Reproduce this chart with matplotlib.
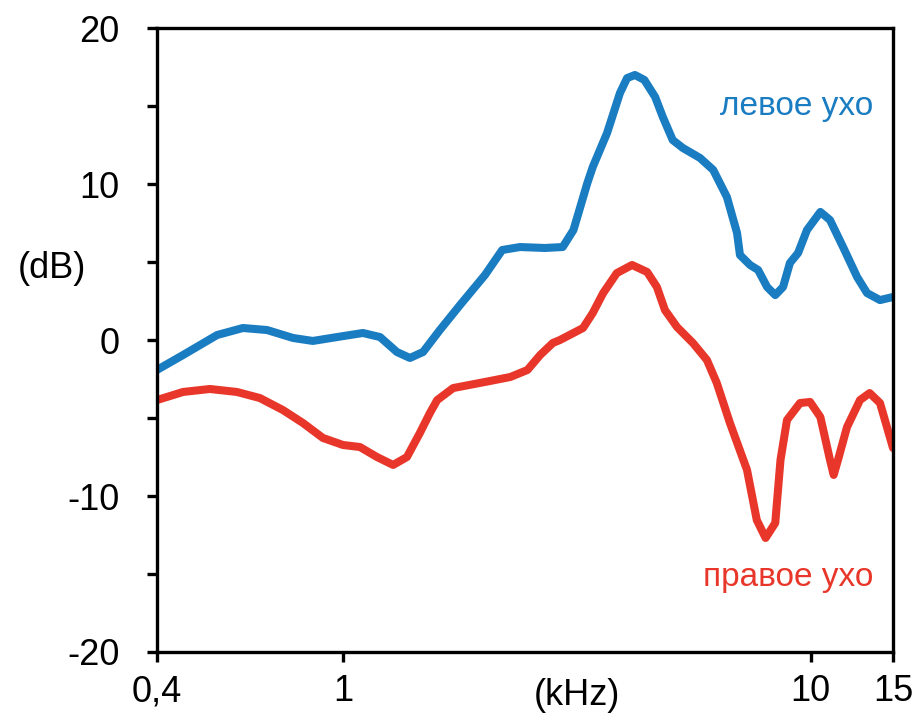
import matplotlib
matplotlib.use("Agg")
import matplotlib.pyplot as plt
import numpy as np

plt.rcParams['font.family'] = ['Liberation Sans', 'DejaVu Sans']
plt.rcParams['axes.unicode_minus'] = False

# frequency (kHz) and level (dB)
left_freq = [0.400, 0.455, 0.538, 0.611, 0.688, 0.782, 0.862, 0.971, 1.103, 1.200,
             1.304, 1.390, 1.483, 1.611, 1.779, 2.012, 2.19, 2.39, 2.70, 2.95,
             3.11, 3.33, 3.42, 3.67, 3.91, 4.05, 4.21, 4.41, 4.65, 4.83,
             5.07, 5.33, 5.80, 6.19, 6.62, 6.96, 7.06, 7.42, 7.72, 8.07,
             8.40, 8.73, 9.03, 9.40, 9.82, 10.49, 11.0, 11.73, 12.57, 13.20,
             14.07, 15.0]
left_db = [-1.92, -0.96, 0.32, 0.77, 0.64, 0.13, -0.06, 0.19, 0.45, 0.19,
           -0.77, -1.15, -0.77, 0.64, 2.24, 4.17, 5.77, 5.96, 5.90, 5.96,
           7.05, 10.06, 11.09, 13.27, 15.83, 16.79, 16.99, 16.67, 15.58, 14.29,
           12.82, 12.31, 11.67, 10.90, 9.17, 6.86, 5.45, 4.81, 4.49, 3.40,
           2.88, 3.40, 4.94, 5.58, 7.05, 8.21, 7.69, 5.96, 4.04, 3.01,
           2.56, 2.76]

right_freq = [0.400, 0.455, 0.519, 0.593, 0.664, 0.744, 0.821, 0.906, 1.000, 1.087,
              1.182, 1.280, 1.370, 1.46, 1.534, 1.59, 1.72, 2.06, 2.28, 2.48,
              2.64, 2.81, 2.91, 3.26, 3.42, 3.60, 3.85, 4.15, 4.47, 4.69,
              4.88, 5.18, 5.60, 6.00, 6.30, 6.72, 7.31, 7.67, 8.01, 8.40,
              8.62, 8.90, 9.49, 9.97, 10.49, 11.0, 11.2, 11.44, 11.96, 12.75,
              13.37, 14.07, 15.0]
right_db = [-3.85, -3.33, -3.14, -3.33, -3.72, -4.49, -5.32, -6.28, -6.73, -6.86,
            -7.50, -8.01, -7.50, -5.96, -4.68, -3.85, -3.08, -2.63, -2.37, -1.92,
            -0.96, -0.19, 0.0, 0.77, 1.73, 3.01, 4.29, 4.81, 4.36, 3.40,
            1.92, 0.83, -0.19, -1.28, -2.76, -5.32, -8.33, -11.54, -12.69, -11.73,
            -7.69, -5.13, -4.04, -3.97, -4.94, -7.69, -8.65, -7.69, -5.58, -3.85,
            -3.40, -4.04, -6.92]

xticks = [0.4, 1, 10, 15]
xtick_labels = ['0,4', '1', '10', '15']
yticks = [-20, -10, 0, 10, 20]

blue = '#1a7cc1'
red = '#e8372a'

fig = plt.figure(figsize=(9.23, 7.28), dpi=100)
ax = fig.add_axes([0.170, 0.1044, 0.7975, 0.8571])

ax.plot(left_freq, left_db, color=blue, lw=5.8, solid_capstyle='round', solid_joinstyle='round')
ax.plot(right_freq, right_db, color=red, lw=5.8, solid_capstyle='round', solid_joinstyle='round')

ax.set_xscale('log')
ax.set_xlim(0.4, 15)
ax.set_ylim(-20, 20)
ax.set_xticks(xticks)
ax.set_xticklabels(xtick_labels)
ax.xaxis.set_minor_locator(matplotlib.ticker.NullLocator())
ax.set_yticks(yticks)
ax.set_yticks([-15, -5, 5, 15], minor=True)

for s in ax.spines.values():
    s.set_linewidth(2.4)
ax.tick_params(which='both', direction='out', length=7, width=2.4, labelsize=26)
ax.tick_params(axis='y', pad=20)
ax.tick_params(axis='x', pad=9)

ax.text(0.571, -0.069, '(kHz)', transform=ax.transAxes, ha='center', va='center', fontsize=26)
ax.text(-0.142, 0.615, '(dB)', transform=ax.transAxes, ha='center', va='center', fontsize=26)

ax.text(0.973, 0.875, 'левое ухо', transform=ax.transAxes, ha='right', va='center',
        fontsize=24, color=blue)
ax.text(0.973, 0.12, 'правое ухо', transform=ax.transAxes, ha='right', va='center',
        fontsize=24, color=red)

fig.savefig('out.png', dpi=100)
